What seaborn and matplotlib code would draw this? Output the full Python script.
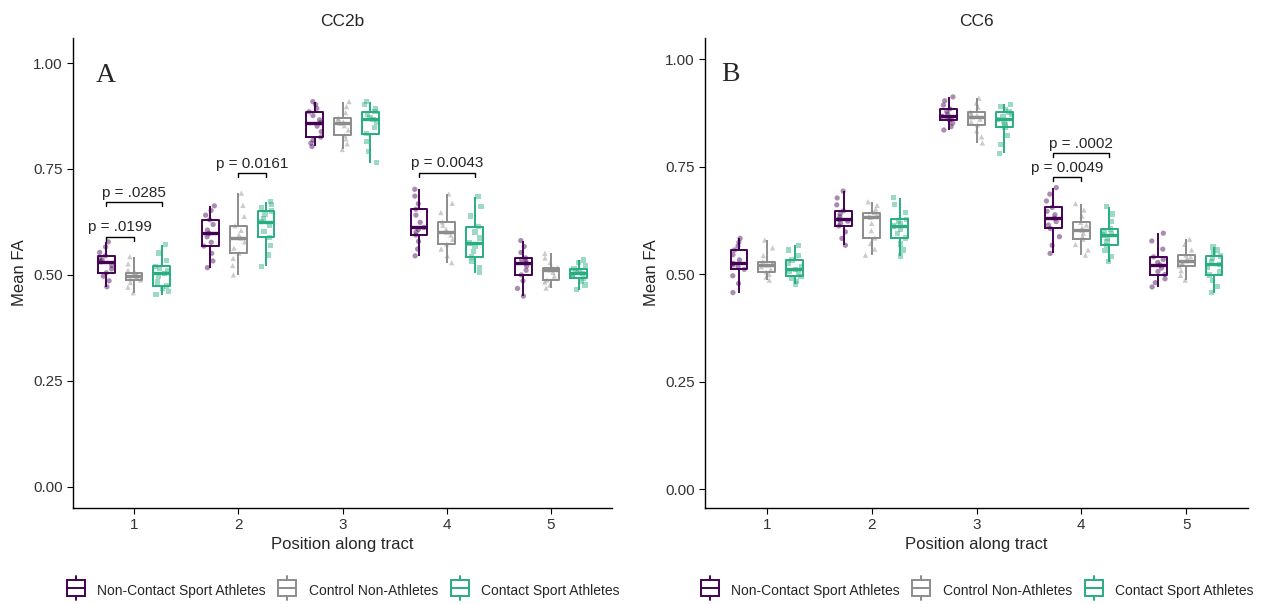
import matplotlib
matplotlib.use("Agg")
import matplotlib.pyplot as plt
import numpy as np
import pandas as pd
import seaborn as sns
from matplotlib.legend_handler import HandlerBase
from matplotlib.lines import Line2D
from matplotlib.patches import Rectangle

sns.set_theme(style="ticks")
plt.rcParams['font.family'] = ['Liberation Sans', 'DejaVu Sans']
np.random.seed(3)

groups = ['Non-Contact Sport Athletes', 'Control Non-Athletes', 'Contact Sport Athletes']
colors = ['#440154', '#8c8c8c', '#27ad81']
markers = ['o', '^', 's']
positions = ['1', '2', '3', '4', '5']

# CC2b, one list per position along tract
cc2b_noncontact = [
    [.472, .486, .497, .505, .514, .522, .531, .535, .540, .545, .553, .566, .578],
    [.517, .533, .551, .568, .577, .590, .598, .606, .619, .630, .641, .652, .663],
    [.803, .811, .818, .825, .838, .851, .859, .866, .876, .885, .893, .902, .909],
    [.545, .561, .579, .594, .601, .607, .612, .624, .641, .655, .668, .686, .702],
    [.450, .468, .486, .500, .511, .521, .528, .532, .536, .540, .553, .567, .581],
]
cc2b_control = [
    [.458, .471, .482, .488, .491, .495, .498, .500, .502, .504, .511, .526, .543],
    [.500, .522, .539, .551, .563, .578, .587, .594, .605, .616, .638, .664, .693],
    [.796, .809, .821, .829, .842, .852, .858, .861, .866, .870, .883, .897, .909],
    [.529, .545, .561, .573, .584, .594, .601, .608, .617, .625, .647, .669, .691],
    [.469, .476, .483, .488, .497, .506, .512, .514, .515, .517, .529, .540, .551],
]
cc2b_contact = [
    [.453, .461, .468, .474, .483, .497, .504, .509, .515, .520, .534, .552, .571],
    [.520, .547, .569, .589, .603, .617, .626, .633, .642, .651, .658, .666, .673],
    [.765, .791, .815, .833, .848, .860, .867, .872, .879, .885, .893, .902, .909],
    [.505, .518, .531, .542, .556, .567, .575, .587, .601, .614, .639, .662, .685],
    [.465, .476, .485, .492, .496, .501, .504, .507, .511, .515, .522, .529, .535],
]

# CC6
cc6_noncontact = [
    [.457, .478, .496, .511, .516, .521, .525, .533, .545, .556, .565, .574, .583],
    [.567, .583, .598, .612, .618, .623, .627, .633, .640, .647, .661, .677, .693],
    [.835, .843, .851, .858, .861, .864, .867, .872, .878, .884, .893, .903, .912],
    [.548, .567, .587, .606, .614, .622, .630, .638, .646, .655, .670, .686, .701],
    [.470, .480, .489, .499, .506, .514, .521, .527, .534, .540, .558, .577, .595],
]
cc6_control = [
    [.486, .493, .499, .505, .511, .517, .521, .523, .526, .529, .543, .561, .579],
    [.544, .558, .571, .584, .601, .618, .632, .635, .639, .643, .651, .660, .668],
    [.805, .819, .833, .847, .854, .860, .866, .869, .873, .877, .888, .898, .909],
    [.544, .556, .569, .581, .588, .595, .602, .608, .614, .620, .635, .649, .664],
    [.486, .497, .508, .519, .523, .527, .531, .535, .540, .544, .556, .569, .581],
]
cc6_contact = [
    [.477, .483, .490, .495, .501, .507, .511, .517, .526, .533, .544, .556, .567],
    [.542, .556, .570, .584, .594, .604, .612, .617, .622, .627, .644, .661, .678],
    [.781, .802, .822, .842, .848, .854, .860, .866, .871, .877, .883, .889, .895],
    [.529, .541, .554, .567, .575, .583, .591, .595, .600, .605, .622, .640, .657],
    [.457, .471, .485, .498, .506, .515, .523, .529, .536, .542, .549, .556, .563],
]

# significant comparisons: (position index, group a, group b, bracket height, label)
cc2b_tests = [(0, 0, 1, 0.590, 'p = .0199'), (0, 0, 2, 0.671, 'p = .0285'),
              (1, 1, 2, 0.740, 'p = 0.0161'), (3, 0, 2, 0.741, 'p = 0.0043')]
cc6_tests = [(3, 0, 1, 0.725, 'p = 0.0049'), (3, 0, 2, 0.781, 'p = .0002')]


class BoxKey(HandlerBase):
    # small boxplot glyph for the legend keys
    def create_artists(self, legend, orig, xd, yd, width, height, fontsize, trans):
        c = orig.get_edgecolor()
        cx = xd + width / 2
        b0 = yd - 1.5
        b1 = yd + height + 1.5
        box = Rectangle((xd + 1, b0), width - 2, b1 - b0,
                        facecolor='none', edgecolor=c, lw=1.4, transform=trans)
        up = Line2D([cx, cx], [b1, b1 + 3], color=c, lw=1.4, transform=trans)
        dn = Line2D([cx, cx], [b0 - 3, b0], color=c, lw=1.4, transform=trans)
        mid = Line2D([xd + 1, xd + width - 1], [yd + height / 2] * 2, color=c, lw=1.4,
                     transform=trans)
        return [box, up, dn, mid]


def make_frame(per_group):
    rows = []
    for g, data in zip(groups, per_group):
        for pos, vals in zip(positions, data):
            for v in vals:
                rows.append((pos, g, v))
    return pd.DataFrame(rows, columns=['Position', 'Group', 'FA'])


def draw(ax, df, title, letter, ylim, xlim, tests, letter_xy):
    for g, m in zip(groups, markers):
        sns.stripplot(data=df[df.Group == g], x='Position', y='FA', hue='Group',
                      hue_order=groups, palette=colors, order=positions, dodge=True,
                      jitter=0.2, marker=m, size=3.8, alpha=0.45, linewidth=0,
                      legend=False, ax=ax)
    sns.boxplot(data=df, x='Position', y='FA', hue='Group', hue_order=groups,
                palette=colors, order=positions, fill=False, width=0.8, gap=0.4,
                whis=(0, 100), showfliers=False, showcaps=False, linewidth=1.4,
                medianprops=dict(linewidth=2.4), ax=ax)
    off = 0.8 / 3
    for pi, a, b, y, lab in tests:
        x0 = pi + (a - 1) * off
        x1 = pi + (b - 1) * off
        ax.plot([x0, x0, x1, x1], [y - 0.009, y, y, y - 0.009], color='black', lw=1)
        ax.text((x0 + x1) / 2, y + 0.006, lab, ha='center', va='bottom', fontsize=11)
    ax.set_ylim(*ylim)
    ax.set_xlim(*xlim)
    ax.set_yticks([0, 0.25, 0.5, 0.75, 1.0])
    ax.set_yticklabels(['0.00', '0.25', '0.50', '0.75', '1.00'])
    ax.set_xlabel('Position along tract', fontsize=12, labelpad=3)
    ax.set_ylabel('Mean FA', fontsize=12, labelpad=4)
    ax.set_title(title, fontsize=12.5, pad=9)
    ax.tick_params(length=4, width=0.8, color='black', labelsize=11, labelcolor='#333333')
    for s in ['left', 'bottom']:
        ax.spines[s].set_linewidth(1.0)
        ax.spines[s].set_color('black')
    sns.despine(ax=ax)
    ax.text(letter_xy[0], letter_xy[1], letter, ha='center', va='center',
            fontsize=20, family='Liberation Serif')
    handles, labels = ax.get_legend_handles_labels()
    ax.get_legend().remove()
    ax.legend(handles[:3], labels[:3], loc='upper center', bbox_to_anchor=(0.5, -0.135),
              ncol=3, frameon=False, fontsize=10, handlelength=1.5, handleheight=0.9,
              columnspacing=0.8, handletextpad=0.8,
              handler_map={type(handles[0]): BoxKey()})


fig = plt.figure(figsize=(12.7, 6.04), dpi=100)
ax1 = fig.add_axes([73 / 1270, 96 / 604, 539 / 1270, 470 / 604])
ax2 = fig.add_axes([705 / 1270, 96 / 604, 543 / 1270, 470 / 604])

draw(ax1, make_frame([cc2b_noncontact, cc2b_control, cc2b_contact]), 'CC2b', 'A',
     (-0.05, 1.059), (-0.585, 4.585), cc2b_tests, (-0.27, 0.97))
draw(ax2, make_frame([cc6_noncontact, cc6_control, cc6_contact]), 'CC6', 'B',
     (-0.044, 1.049), (-0.59, 4.59), cc6_tests, (-0.35, 0.963))

fig.savefig('out.png', dpi=100)
